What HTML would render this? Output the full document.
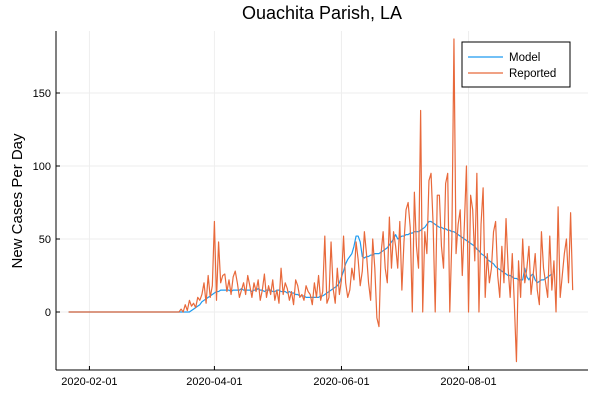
<!DOCTYPE html>
<html><head><meta charset="utf-8"><style>
body{margin:0;background:#fff}
svg{display:block;font-family:"Liberation Sans",sans-serif}
</style></head><body>
<svg id="chart" width="600" height="400">
<text x="322" y="19" text-anchor="middle" font-size="18">Ouachita Parish, LA</text>
<text transform="translate(22,201) rotate(-90)" text-anchor="middle" font-size="15">New Cases Per Day</text>
<g id="grid"></g><g id="axes"></g><g id="series"></g>
<g>
<rect x="462" y="42" width="108" height="45" fill="#fff" stroke="#000" stroke-width="1"/>
<line x1="468" y1="57" x2="503" y2="57" stroke="#1e9bf0" stroke-width="1.3"/>
<text x="509" y="61" font-size="11.5">Model</text>
<line x1="468" y1="73" x2="503" y2="73" stroke="#e8693b" stroke-width="1.3"/>
<text x="509" y="77" font-size="11.5">Reported</text>
</g>
</svg>
<script>
const startDate = "2020-01-22";
const yTickValues = [0, 50, 100, 150];
const xTickLabels = ["2020-02-01","2020-04-01","2020-06-01","2020-08-01"];
const xTickDays = [10, 70, 131, 192];
const reportedStart = 53;
const reported = [0,2,0,5,1,8,4,6,3,10,
8,12,20,6,25,10,18,62,8,48,
20,25,26,14,22,12,24,28,20,10,
15,20,12,25,18,10,20,14,22,8,
15,26,10,18,12,22,8,15,6,30,
12,20,16,8,14,5,22,18,10,12,
8,18,14,12,5,20,10,25,8,14,
52,6,10,48,16,6,30,12,22,52,
20,10,15,30,22,48,36,18,28,55,
40,20,8,50,30,-4,-10,40,55,30,
20,65,30,55,45,30,62,15,48,70,
75,58,0,82,45,30,138,0,55,40,
90,95,60,0,80,80,45,30,88,95,
0,50,187,40,60,70,25,60,100,0,
80,70,35,95,0,60,85,10,40,20,
30,55,62,25,10,45,20,64,30,10,
40,5,-34,35,10,50,20,30,45,12,
25,40,15,5,55,30,20,10,52,15,
35,0,72,10,25,40,50,20,68,15];
const modelStart = 56;
const model = [0,0,0,1,2,3,4,5,7,8,
9,10,11,12,13,14,14,15,15,15,
15,15,14,15,15,15,15,16,15,15,
15,15,14,15,15,16,15,15,14,15,
15,15,14,14,15,15,14,14,14,13,
14,13,13,12,12,11,11,11,10,10,
10,10,10,10,10,11,11,12,13,14,
15,16,17,18,20,24,28,33,36,38,
40,45,52,52,48,38,37,38,38,39,
39,40,40,40,41,42,43,44,46,48,
50,53,50,51,52,52,53,53,54,54,
55,55,55,56,57,58,60,62,62,61,
60,59,58,58,57,57,56,56,55,55,
54,53,52,51,50,49,48,47,46,45,
43,42,40,39,38,36,35,34,33,31,
30,29,28,27,26,25,25,24,23,23,
22,22,22,30,24,22,25,26,22,20,
21,22,22,23,24,25,26];
const X0 = 68.6, PXD = 2.083, Y0 = 312, PXU = 1.46;
function xs(d){return X0 + d*PXD;}
function ys(v){return Y0 - v*PXU;}
const NS="http://www.w3.org/2000/svg";
function mk(t,a,p){const e=document.createElementNS(NS,t);for(const k in a)e.setAttribute(k,a[k]);p.appendChild(e);return e;}
const grid=document.getElementById('grid'), axes=document.getElementById('axes'), ser=document.getElementById('series');
yTickValues.forEach(v=>{
  const g=mk('line',{x1:56,x2:588,y1:ys(v),y2:ys(v),stroke:'#eee','stroke-width':1},grid);
  
  
  const t=mk('line',{x1:56,x2:60,y1:ys(v),y2:ys(v),stroke:'#000'},axes);
  
  
  const l=mk('text',{x:51,y:ys(v)+4,'text-anchor':'end','font-size':11},axes);
  l.textContent=v;
  
  
});
xTickDays.forEach((d,i)=>{
  const g=mk('line',{x1:xs(d),x2:xs(d),y1:31,y2:370,stroke:'#eee','stroke-width':1},grid);
  
  
  const t=mk('line',{x1:xs(d),x2:xs(d),y1:370,y2:366,stroke:'#000'},axes);
  
  
  const l=mk('text',{x:xs(d),y:385,'text-anchor':'middle','font-size':11},axes);
  l.textContent=xTickLabels[i];
  
  
});
const ya=mk('line',{x1:56,x2:56,y1:31,y2:370,stroke:'#000'},axes);


const xa=mk('line',{x1:56,x2:588,y1:370,y2:370,stroke:'#000'},axes);


function path(vals,start,color,name,lead){
  const pts=[];
  for(let d=0;d<lead;d++)pts.push(xs(d)+','+ys(0));
  vals.forEach((v,i)=>pts.push(xs(start+i)+','+ys(v)));
  const p=mk('polyline',{points:pts.join(' '),fill:'none',stroke:color,'stroke-width':1.2,'stroke-linejoin':'round'},ser);
  
  
}
path(model,modelStart,'#1e9bf0','model-line',modelStart);
path(reported,reportedStart,'#e8693b','reported-line',reportedStart);
</script>
</body></html>
